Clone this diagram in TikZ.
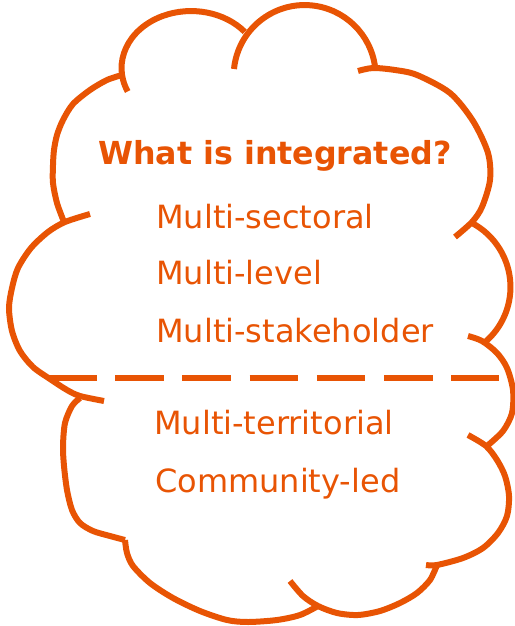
\documentclass[tikz,border=0pt]{standalone}
\usepackage{fontspec}
\setmainfont{DejaVu Sans}
\definecolor{cloudorange}{RGB}{232,84,4}
\begin{document}
\begin{tikzpicture}[x=1pt,y=-1pt,
    cloudline/.style={draw=cloudorange,line width=6pt},
    divider/.style={draw=cloudorange,line width=6.8pt,dash pattern=on 48.5pt off 18.7pt},
    titletext/.style={text=cloudorange,inner sep=0pt,anchor=base,font=\fontsize{31.7}{36}\selectfont\bfseries},
    listtext/.style={text=cloudorange,inner sep=0pt,anchor=base west,font=\fontsize{32}{36}\selectfont}]
  \useasboundingbox (0,0) rectangle (514,626);
  % cloud lobes, clockwise from top left
  \draw[cloudline] (127.7,91.5) arc[start angle=155.7,end angle=320.6,x radius=69.5,y radius=57];
  \draw[cloudline] (234,69) arc[start angle=185.7,end angle=352.7,radius=71];
  \draw[cloudline] plot[smooth] coordinates {(358,71) (373,68) (395,70) (417,75) (450,93) (473,121) (488,153) (490,180) (482,207) (472,222) (455,237)};
  \draw[cloudline] (472,223) arc[start angle=298,end angle=409.6,radius=72.5];
  \draw[cloudline] plot[smooth] coordinates {(468,336) (482,341) (497,353) (507,368) (513,390) (512,413) (503,431) (487,446)};
  \draw[cloudline] plot[smooth] coordinates {(468,435) (486,446) (497,460) (505,476) (509,496) (507,516) (498,533) (483,548) (463,558) (437,565) (426,565)};
  \draw[cloudline] plot[smooth] coordinates {(437,565) (430,580) (417,593) (400,603) (380,611) (358,615) (337,613) (318,606) (303,596) (290,581)};
  \draw[cloudline] plot[smooth] coordinates {(318,606) (300,615) (277,620) (248,622) (227,620) (200,611) (173,598) (150,583) (133,566) (127,553) (125,540)};
  \draw[cloudline] plot[smooth] coordinates {(80,398) (72,406) (65,423) (63,446) (64,466) (67,490) (72,510) (80,523) (93,531) (110,536) (125,540)};
  \draw[cloudline] plot[smooth] coordinates {(90,214) (65,222) (48,232) (31,248) (18,268) (12,288) (9,308) (12,331) (20,351) (33,367) (50,379) (67,390) (80,396) (104,401)};
  \draw[cloudline] plot[smooth] coordinates {(64,222) (57,203) (53,183) (53,165) (54,150) (57,135) (63,120) (73,104) (90,90) (107,80) (122,75)};
  % divider
  \coordinate (divL) at (48,378);
  \coordinate (divR) at (499,378);
  \draw[divider] (divL) -- (divR);
  % texts
  \node[titletext] (title) at (275,164) {What is integrated?};
  \node[listtext] (sectoral) at (156,228) {Multi-sectoral};
  \node[listtext] (level) at (156,284.5) {Multi-level};
  \node[listtext] (stakeholder) at (156,342) {Multi-stakeholder};
  \node[listtext] (territorial) at (154,434) {Multi-territorial};
  \node[listtext] (community) at (155,492) {Community-led};
\end{tikzpicture}
\end{document}
